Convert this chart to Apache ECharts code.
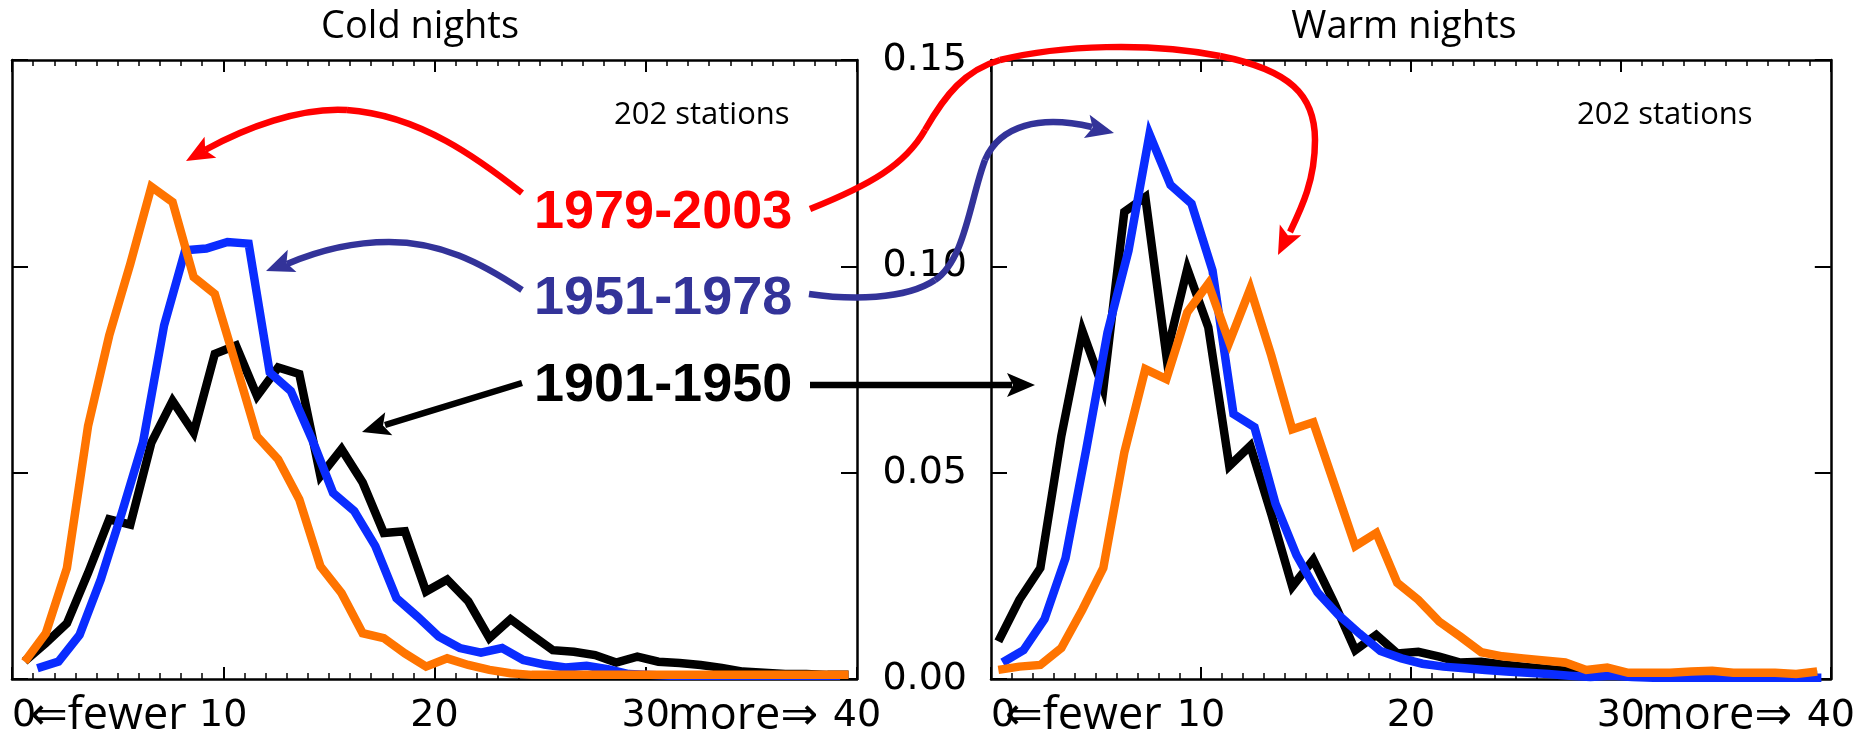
<!DOCTYPE html>
<html>
<head>
<meta charset="utf-8">
<title>Cold and warm nights</title>
<script src="https://cdn.jsdelivr.net/npm/echarts@6.0.0/dist/echarts.min.js"></script>
<style>
  html, body { margin: 0; padding: 0; background: #fff; }
  #chart { width: 1858px; height: 744px; }
</style>
</head>
<body>
<div id="chart"></div>
<script>
// count bins (number of cold / warm nights)
const bins = [0, 1, 2, 3, 4, 5, 6, 7, 8, 9, 10, 11, 12, 13, 14, 15, 16, 17, 18, 19,
  20, 21, 22, 23, 24, 25, 26, 27, 28, 29, 30, 31, 32, 33, 34, 35, 36, 37, 38, 39];

// Cold nights, fraction of stations
const coldBlack = [0.0043, 0.0087, 0.0135, 0.0257, 0.0387, 0.0374, 0.0573, 0.0674, 0.0597, 0.0788,
  0.0808, 0.0686, 0.0755, 0.0739, 0.0492, 0.0557, 0.0476, 0.0354, 0.0358, 0.0212,
  0.0241, 0.0188, 0.0099, 0.0145, 0.0107, 0.0070, 0.0066, 0.0058, 0.0040, 0.0054,
  0.0042, 0.0039, 0.0034, 0.0027, 0.0018, 0.0015, 0.0012, 0.0012, 0.0010, 0.0010];
const coldBlue = [null, 0.0026, 0.0042, 0.0107, 0.0241, 0.0403, 0.0573, 0.0857, 0.1039, 0.1043,
  0.1059, 0.1055, 0.0743, 0.0698, 0.0581, 0.0451, 0.0407, 0.0322, 0.0196, 0.0151,
  0.0103, 0.0075, 0.0064, 0.0075, 0.0046, 0.0035, 0.0028, 0.0032, 0.0024, 0.0012,
  0.0010, 0.0008, 0.0008, 0.0008, 0.0008, 0.0008, 0.0008, 0.0008, 0.0008, 0.0008];
const coldOrange = [0.0042, 0.0111, 0.0269, 0.0613, 0.0832, 0.1006, 0.1193, 0.1156, 0.0974, 0.0933,
  0.0762, 0.0588, 0.0532, 0.0435, 0.0273, 0.0208, 0.0111, 0.0099, 0.0062, 0.0030,
  0.0050, 0.0034, 0.0022, 0.0014, 0.0010, 0.0010, 0.0010, 0.0010, 0.0010, 0.0010,
  0.0010, 0.0010, 0.0010, 0.0010, 0.0010, 0.0010, 0.0010, 0.0010, 0.0010, 0.0010];

// Warm nights, fraction of stations
const warmBlack = [0.0091, 0.0192, 0.0269, 0.0589, 0.0844, 0.0703, 0.1132, 0.1168, 0.0784, 0.0994,
  0.0852, 0.0516, 0.0565, 0.0400, 0.0224, 0.0289, 0.0184, 0.0070, 0.0107, 0.0062,
  0.0066, 0.0054, 0.0040, 0.0042, 0.0035, 0.0030, 0.0025, 0.0020, 0.0015, 0.0010,
  0.0010, 0.0010, 0.0010, 0.0010, 0.0010, 0.0010, 0.0010, 0.0010, 0.0010, 0.0010];
const warmBlue = [0.0040, 0.0070, 0.0145, 0.0293, 0.0560, 0.0840, 0.1038, 0.1320, 0.1197, 0.1152,
  0.0990, 0.0642, 0.0610, 0.0425, 0.0300, 0.0210, 0.0155, 0.0110, 0.0068, 0.0050,
  0.0037, 0.0030, 0.0026, 0.0022, 0.0018, 0.0015, 0.0012, 0.0008, 0.0005, 0.0008,
  0.0005, 0.0003, 0.0003, 0.0003, 0.0003, 0.0003, 0.0003, 0.0003, 0.0003, 0.0003];
const warmOrange = [0.0022, 0.0030, 0.0034, 0.0075, 0.0168, 0.0269, 0.0549, 0.0751, 0.0727, 0.0889,
  0.0958, 0.0816, 0.0946, 0.0784, 0.0605, 0.0622, 0.0472, 0.0322, 0.0354, 0.0233,
  0.0192, 0.0139, 0.0103, 0.0065, 0.0055, 0.0050, 0.0045, 0.0040, 0.0022, 0.0028,
  0.0015, 0.0015, 0.0015, 0.0018, 0.0020, 0.0015, 0.0015, 0.0015, 0.0012, 0.0018];

// where each period's points sit inside a bin
const coldShift = { black: 0.6, blue: 0.2, orange: 0.6 };
const warmShift = { black: 0.35, blue: 0.55, orange: 0.35 };

const xTicks = [0, 10, 20, 30, 40];
const yTicks = [0, 0.05, 0.10, 0.15];
const periods = ['1979-2003', '1951-1978', '1901-1950'];
const panelTitles = ['Cold nights', 'Warm nights'];
const stationNote = '202 stations';

const BLACK = '#000000';
const BLUE = '#0a2cff';
const ORANGE = '#ff7400';
const RED = '#ff0000';
const PURPLE = '#333399';

function pairs(shift, ys) {
  return bins.map((b, i) => [b + shift, ys[i]]).filter(p => p[1] !== null);
}

function xAxis(grid, pos) {
  return {
    type: 'value', gridIndex: grid, position: pos,
    min: xTicks[0], max: xTicks[xTicks.length - 1], interval: xTicks[1] - xTicks[0],
    axisLine: { show: true, onZero: false, lineStyle: { color: BLACK, width: 2.5 } },
    axisTick: { inside: true, length: 12, lineStyle: { color: BLACK, width: 2 } },
    minorTick: { show: true, splitNumber: 10, length: 6, lineStyle: { color: BLACK, width: 1.5 } },
    splitLine: { show: false },
    axisLabel: pos === 'bottom' ? {
      fontFamily: 'DejaVu Sans', fontSize: 38, color: BLACK, margin: 18, alignMinLabel: 'left'
    } : { show: false }
  };
}

function yAxis(grid, pos, labels) {
  return {
    type: 'value', gridIndex: grid, position: pos,
    min: yTicks[0], max: yTicks[yTicks.length - 1], interval: yTicks[1] - yTicks[0],
    axisLine: { show: true, onZero: false, lineStyle: { color: BLACK, width: 2.5 } },
    axisTick: { show: true, inside: true, length: 16, lineStyle: { color: BLACK, width: 2 } },
    splitLine: { show: false },
    axisLabel: labels ? {
      fontFamily: 'DejaVu Sans', fontSize: 38, color: BLACK, margin: 24,
      formatter: v => v.toFixed(2)
    } : { show: false }
  };
}

function line(idx, data, color) {
  return {
    type: 'line', xAxisIndex: idx, yAxisIndex: idx, data: data,
    symbol: 'none', animation: false, clip: true,
    lineStyle: { color: color, width: 8.5, join: 'miter', cap: 'butt' }
  };
}

// annotation arrow: shaft made of cubic pieces [x1,y1, c1x,c1y, c2x,c2y, x2,y2],
// head points from the last control point to the tip
function arrow(pieces, tip, color, width) {
  const els = pieces.map(p => ({
    type: 'bezierCurve', z: 100,
    shape: { x1: p[0], y1: p[1], cpx1: p[2], cpy1: p[3], cpx2: p[4], cpy2: p[5], x2: p[6], y2: p[7] },
    style: { stroke: color, lineWidth: width, fill: null }
  }));
  const lastPiece = pieces[pieces.length - 1];
  let dx = tip[0] - lastPiece[4], dy = tip[1] - lastPiece[5];
  const d = Math.hypot(dx, dy);
  dx /= d; dy /= d;
  const L = 28, W = 12;
  const bx = tip[0] - dx * L, by = tip[1] - dy * L;
  els.push({
    type: 'polygon', z: 100,
    shape: { points: [tip, [bx - dy * W, by + dx * W], [bx + dx * 6, by + dy * 6], [bx + dy * W, by - dx * W]] },
    style: { fill: color }
  });
  return els;
}

function text(str, x, y, font, color, align) {
  return {
    type: 'text', z: 101, x: x, y: y,
    style: { text: str, font: font, fill: color, align: align || 'left', verticalAlign: 'middle' }
  };
}

const yearFont = 'bold 54px "Liberation Sans"';
const noteFont = '31px "Open Sans"';
const titleFont = '38px "Open Sans"';
const dirFont = '45px "Open Sans", "DejaVu Sans"';

const graphics = [].concat(
  text(panelTitles[0], 420, 27, titleFont, BLACK, 'center'),
  text(panelTitles[1], 1404, 27, titleFont, BLACK, 'center'),
  text(stationNote, 614, 115, noteFont, BLACK),
  text(stationNote, 1577, 115, noteFont, BLACK),
  text(periods[0], 534, 213, yearFont, RED),
  text(periods[1], 534, 299, yearFont, PURPLE),
  text(periods[2], 534, 386, yearFont, BLACK),
  text('\u21d0fewer', 30, 716, dirFont, BLACK),
  text('more\u21d2', 668, 716, dirFont, BLACK),
  text('\u21d0fewer', 1005, 716, dirFont, BLACK),
  text('more\u21d2', 1642, 716, dirFont, BLACK),
  arrow([
    [522, 193, 480, 160, 420, 115, 347, 110],
    [347, 110, 300, 107, 245, 128, 205, 150]
  ], [186, 161], RED, 6.5),
  arrow([
    [810, 209, 870, 185, 905, 165, 925, 130],
    [925, 130, 945, 95, 965, 70, 1000, 60],
    [1000, 60, 1060, 45, 1150, 42, 1220, 56],
    [1220, 56, 1290, 70, 1315, 95, 1315, 140],
    [1315, 140, 1315, 180, 1302, 207, 1290, 232]
  ], [1278, 255], RED, 6.5),
  arrow([
    [522, 290, 480, 262, 440, 242, 389, 242],
    [389, 242, 350, 242, 315, 252, 287, 264]
  ], [266, 271], PURPLE, 6.5),
  arrow([
    [809, 294, 850, 300, 905, 300, 935, 280],
    [935, 280, 965, 260, 970, 200, 985, 160],
    [985, 160, 1000, 125, 1040, 115, 1092, 127]
  ], [1114, 133], PURPLE, 6.5),
  arrow([[522, 383, 470, 399, 430, 411, 385, 425]], [362, 432], BLACK, 6.5),
  arrow([[810, 385, 880, 385, 950, 385, 1012, 385]], [1035, 385], BLACK, 6.5)
);

const chart = echarts.init(document.getElementById('chart'));
chart.setOption({
  backgroundColor: '#ffffff',
  animation: false,
  grid: [
    { left: 12, right: 1001, top: 60, bottom: 65 },
    { left: 991, right: 23, top: 60, bottom: 65 }
  ],
  xAxis: [xAxis(0, 'bottom'), xAxis(0, 'top'), xAxis(1, 'bottom'), xAxis(1, 'top')],
  yAxis: [yAxis(0, 'left', false), yAxis(0, 'right', false), yAxis(1, 'left', true), yAxis(1, 'right', false)],
  series: [
    line(0, pairs(coldShift.black, coldBlack), BLACK),
    line(0, pairs(coldShift.blue, coldBlue), BLUE),
    line(0, pairs(coldShift.orange, coldOrange), ORANGE),
    line(2, pairs(warmShift.black, warmBlack), BLACK),
    line(2, pairs(warmShift.blue, warmBlue), BLUE),
    line(2, pairs(warmShift.orange, warmOrange), ORANGE)
  ],
  graphic: graphics
});
window.addEventListener('resize', () => chart.resize());
</script>
</body>
</html>
